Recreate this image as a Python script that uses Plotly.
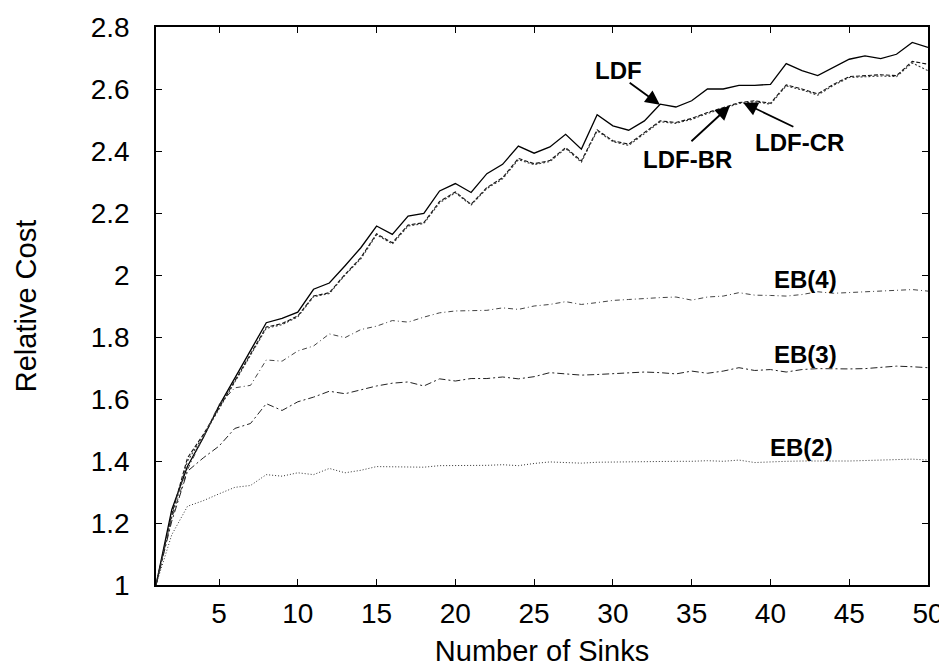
import plotly.graph_objects as go

sinks = list(range(1, 51))

ldf = [1.0, 1.243, 1.383, 1.475, 1.578, 1.668, 1.76, 1.846, 1.86, 1.88,
       1.954, 1.974, 2.03, 2.088, 2.158, 2.131, 2.19, 2.199, 2.271, 2.295,
       2.266, 2.327, 2.357, 2.416, 2.393, 2.413, 2.454, 2.406, 2.517, 2.481,
       2.467, 2.497, 2.551, 2.542, 2.562, 2.6, 2.6, 2.612, 2.612, 2.615,
       2.682, 2.659, 2.643, 2.669, 2.696, 2.707, 2.698, 2.712, 2.75, 2.734]

ldf_br = [1.0, 1.227, 1.41, 1.485, 1.571, 1.658, 1.744, 1.832, 1.843, 1.868,
          1.932, 1.943, 2.002, 2.056, 2.133, 2.104, 2.161, 2.169, 2.237, 2.268,
          2.228, 2.282, 2.314, 2.376, 2.359, 2.369, 2.411, 2.368, 2.468, 2.433,
          2.422, 2.459, 2.497, 2.492, 2.505, 2.524, 2.54, 2.556, 2.562, 2.554,
          2.613, 2.6, 2.584, 2.615, 2.64, 2.643, 2.646, 2.643, 2.689, 2.68]

ldf_cr = [1.0, 1.22, 1.40, 1.48, 1.568, 1.655, 1.74, 1.828, 1.84, 1.865,
          1.93, 1.94, 2.0, 2.052, 2.13, 2.10, 2.158, 2.166, 2.233, 2.265,
          2.226, 2.279, 2.31, 2.372, 2.356, 2.366, 2.408, 2.364, 2.465, 2.43,
          2.418, 2.455, 2.494, 2.489, 2.502, 2.521, 2.537, 2.553, 2.559, 2.551,
          2.61, 2.597, 2.58, 2.612, 2.637, 2.64, 2.642, 2.64, 2.684, 2.659]

eb4 = [1.0, 1.216, 1.372, 1.475, 1.582, 1.636, 1.644, 1.726, 1.722, 1.755,
       1.771, 1.81, 1.798, 1.824, 1.835, 1.853, 1.848, 1.864, 1.878, 1.884,
       1.886, 1.886, 1.894, 1.889, 1.9, 1.905, 1.914, 1.905, 1.911, 1.918,
       1.921, 1.925, 1.927, 1.929, 1.919, 1.929, 1.932, 1.943, 1.935, 1.934,
       1.932, 1.937, 1.946, 1.941, 1.943, 1.945, 1.948, 1.95, 1.953, 1.948]

eb3 = [1.0, 1.206, 1.367, 1.41, 1.448, 1.505, 1.521, 1.585, 1.563, 1.591,
       1.606, 1.625, 1.617, 1.629, 1.642, 1.651, 1.655, 1.642, 1.665, 1.658,
       1.666, 1.666, 1.671, 1.665, 1.672, 1.685, 1.681, 1.677, 1.679, 1.681,
       1.685, 1.687, 1.685, 1.681, 1.69, 1.683, 1.69, 1.701, 1.692, 1.695,
       1.687, 1.695, 1.698, 1.697, 1.697, 1.698, 1.701, 1.706, 1.704, 1.701]

eb2 = [1.0, 1.162, 1.254, 1.272, 1.294, 1.315, 1.321, 1.356, 1.351, 1.362,
       1.356, 1.376, 1.362, 1.37, 1.382, 1.381, 1.382, 1.38, 1.385, 1.385,
       1.385, 1.386, 1.388, 1.385, 1.392, 1.397, 1.395, 1.393, 1.396, 1.397,
       1.398, 1.398, 1.399, 1.399, 1.399, 1.401, 1.399, 1.403, 1.395, 1.398,
       1.399, 1.4, 1.401, 1.4, 1.4, 1.401, 1.403, 1.405, 1.406, 1.403]

x_ticks = [5, 10, 15, 20, 25, 30, 35, 40, 45, 50]

FONT = "Liberation Sans, Arial, Helvetica, sans-serif"

fig = go.Figure()
series = [
    ("LDF", ldf, "solid", "#000000", 1.3),
    ("LDF-BR", ldf_br, "4px,2px", "#111111", 1.1),
    ("LDF-CR", ldf_cr, "2px,2px", "#333333", 1.1),
    ("EB(4)", eb4, "5px,3px,1px,3px", "#444444", 1.0),
    ("EB(3)", eb3, "7px,3px,2px,3px", "#222222", 1.0),
    ("EB(2)", eb2, "1px,2px", "#333333", 1.0),
]
for name, ys, dash, col, w in series:
    fig.add_trace(go.Scatter(x=sinks, y=ys, mode="lines", name=name,
                             line=dict(color=col, width=w, dash=dash)))

lab_font = dict(family=FONT, size=24, color="black")
texts = [("LDF", 30.33, 2.661), ("LDF-BR", 34.71, 2.371), ("LDF-CR", 41.86, 2.429),
         ("EB(4)", 42.2, 1.985), ("EB(3)", 42.2, 1.744), ("EB(2)", 42.0, 1.442)]
for t, xx, yy in texts:
    fig.add_annotation(x=xx, y=yy, text="<b>%s</b>" % t, showarrow=False,
                       font=lab_font, xanchor="center", yanchor="middle")

arrows = [(32.98, 2.549, 30.97, 2.624), (37.43, 2.546, 34.89, 2.427),
          (38.27, 2.556, 41.55, 2.476)]
for hx, hy, tx, ty in arrows:
    fig.add_annotation(x=hx, y=hy, ax=tx, ay=ty, axref="x", ayref="y",
                       xref="x", yref="y", text="", showarrow=True,
                       arrowhead=2, arrowsize=1.6, arrowwidth=1.8,
                       arrowcolor="black", standoff=0, startstandoff=0)

axis_common = dict(showline=True, linecolor="black", linewidth=1.5, mirror="ticks",
                   ticks="inside", ticklen=6, tickwidth=1, tickcolor="black",
                   showgrid=False, zeroline=False,
                   tickfont=dict(family=FONT, size=28, color="black"))

fig.update_xaxes(range=[1, 50], tickvals=x_ticks,
                 title=dict(text="Number of Sinks", font=dict(family=FONT, size=29, color="black"),
                            standoff=12),
                 ticklabelstandoff=3, **axis_common)
fig.update_yaxes(range=[1, 2.8], dtick=0.2, tick0=1,
                 title=dict(text="Relative Cost", font=dict(family=FONT, size=29, color="black"),
                            standoff=46),
                 ticklabelstandoff=19, **axis_common)

fig.update_layout(width=947, height=671, showlegend=False,
                  plot_bgcolor="white", paper_bgcolor="white",
                  margin=dict(l=148, r=27, t=19, b=94, autoexpand=False),
                  font=dict(family=FONT, color="black"))

fig.write_html("out.html")
